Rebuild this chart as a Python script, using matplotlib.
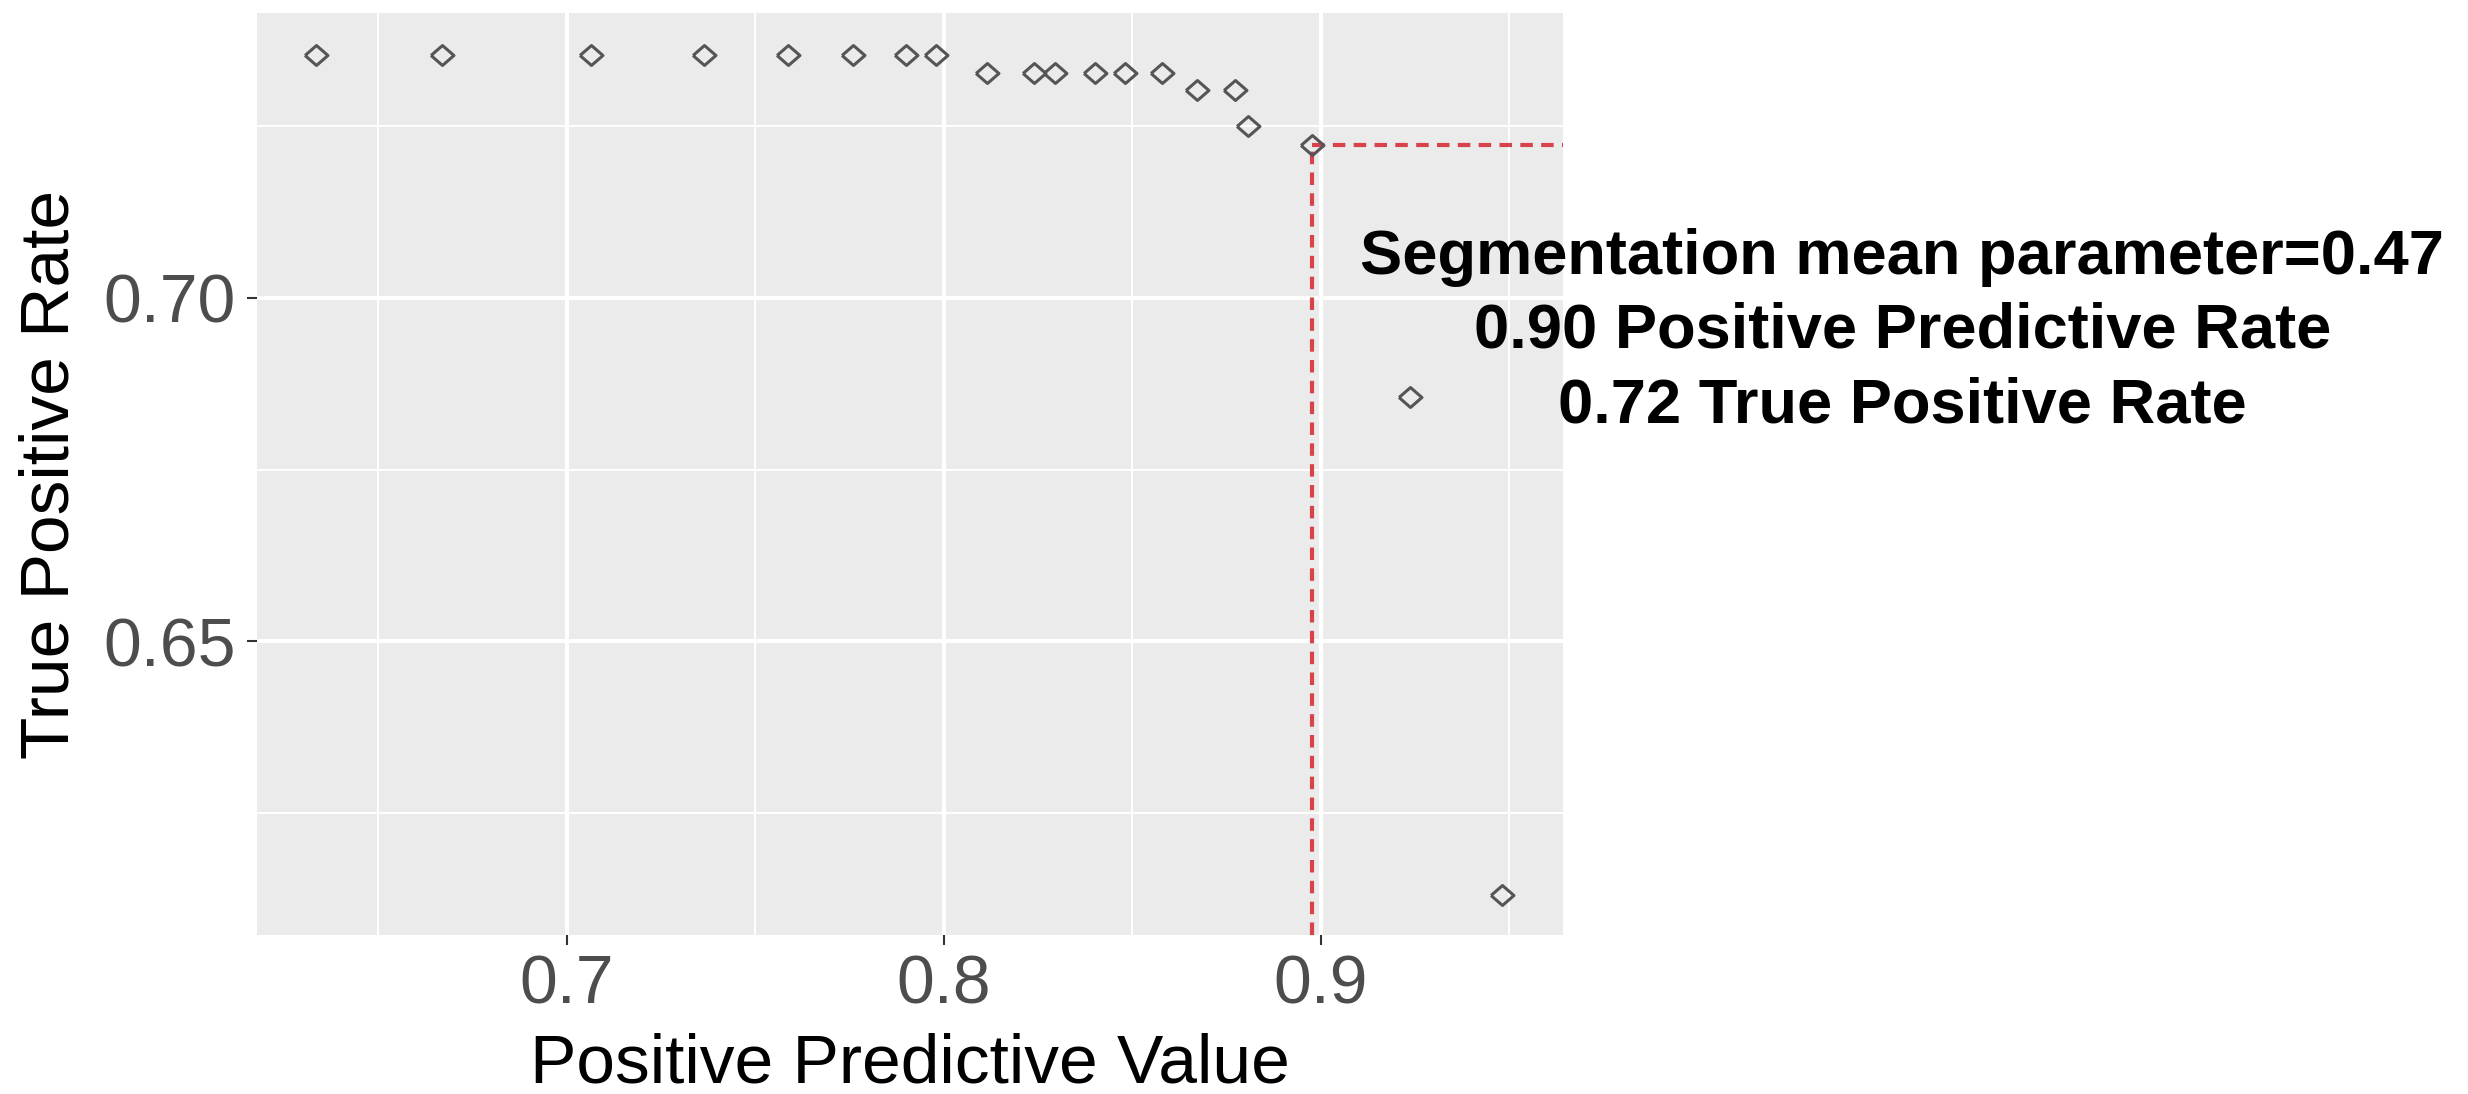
import matplotlib
matplotlib.use("Agg")
from matplotlib import pyplot as plt

# threshold sweep: positive predictive value vs true positive rate
ppv = [0.6335, 0.6668, 0.7064, 0.7365, 0.7587, 0.7760, 0.7899, 0.7980,
       0.8114, 0.8240, 0.8296, 0.8402, 0.8481, 0.8578,
       0.8672, 0.8772, 0.8807, 0.8976, 0.9235, 0.9481]
tpr = [0.7353, 0.7353, 0.7353, 0.7353, 0.7353, 0.7353, 0.7353, 0.7353,
       0.7327, 0.7327, 0.7327, 0.7327, 0.7327, 0.7327,
       0.7302, 0.7302, 0.7249, 0.7222, 0.6856, 0.6131]

# chosen operating point
best_ppv = 0.8976
best_tpr = 0.7222
seg_param = 0.47

x_lim = (0.6178, 0.9642)
y_lim = (0.6073, 0.7414)
x_major = [0.7, 0.8, 0.9]
x_minor = [0.65, 0.75, 0.85, 0.95]
y_major = [0.65, 0.70]
y_minor = [0.625, 0.675, 0.725]
x_ticklabels = ['0.7', '0.8', '0.9']
y_ticklabels = ['0.65', '0.70']

plt.rcParams['font.family'] = ['Liberation Sans', 'DejaVu Sans']

fig = plt.figure(figsize=(24.68, 10.94), dpi=100)
ax = fig.add_axes([0.1041, 0.1453, 0.5292, 0.8428])

# ggplot-ish grey panel
ax.set_facecolor('#EBEBEB')
for s in ax.spines.values():
    s.set_visible(False)
ax.set_axisbelow(True)

ax.set_xlim(*x_lim)
ax.set_ylim(*y_lim)
ax.set_xticks(x_major)
ax.set_xticklabels(x_ticklabels)
ax.set_xticks(x_minor, minor=True)
ax.set_yticks(y_major)
ax.set_yticklabels(y_ticklabels)
ax.set_yticks(y_minor, minor=True)

ax.grid(which='major', color='white', lw=2.9)
ax.grid(which='minor', color='white', lw=1.4)
ax.tick_params(which='major', length=7, width=1.5, color='#333333',
               labelsize=49, labelcolor='#4D4D4D')
ax.tick_params(axis='x', which='major', pad=6.5)
ax.tick_params(axis='y', which='major', pad=8)
ax.tick_params(which='minor', length=0)

ax.set_xlabel('Positive Predictive Value', fontsize=50, va='baseline')
ax.xaxis.set_label_coords(0.5, -0.1594)
ax.set_ylabel('True Positive Rate', fontsize=50, va='center')
ax.yaxis.set_label_coords(-0.1577, 0.5)

# dashed guides to the chosen point
red = '#D8424A'
ax.plot([best_ppv, x_lim[1]], [best_tpr, best_tpr], color=red, lw=3,
        dashes=(3.0, 2.0), zorder=2)
ax.plot([best_ppv, best_ppv], [y_lim[0], best_tpr], color=red, lw=3,
        dashes=(3.0, 2.0), zorder=2)

diamond = [(-1, 0), (0, -0.87), (1, 0), (0, 0.87), (-1, 0)]
ax.plot(ppv, tpr, ls='none', marker=diamond, ms=16.5, mfc='none',
        mec='#555555', mew=2.2, zorder=3)

label = (f"Segmentation mean parameter={seg_param:.2f}\n"
         f"{best_ppv:.2f} Positive Predictive Rate\n"
         f"{best_tpr:.2f} True Positive Rate")
ax.text(1.0542, 0.6951, label, ha='center', va='center',
        multialignment='center', fontsize=45.5, fontweight='bold',
        linespacing=1.33, clip_on=False)

fig.savefig('out.png', dpi=100)
plt.close(fig)
